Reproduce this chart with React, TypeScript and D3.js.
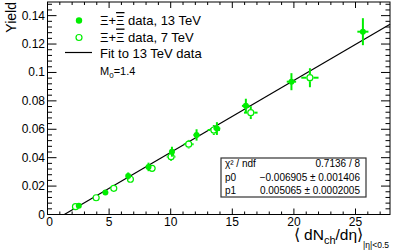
import React from "react";
import * as d3 from "d3";

const x13 = [2.54, 4.7, 6.55, 8.2, 10.1, 12.1, 13.75, 16.1, 19.8, 25.6];
const y13 = [0.0062, 0.0155, 0.0271, 0.0335, 0.0442, 0.056, 0.0605, 0.0765, 0.0935, 0.1287];
const ex13 = [0.1, 0.12, 0.15, 0.18, 0.2, 0.25, 0.28, 0.32, 0.38, 0.45];
const ey13 = [0.0008, 0.0012, 0.0025, 0.003, 0.0035, 0.004, 0.0045, 0.005, 0.006, 0.0095];

const x7 = [2.27, 3.95, 5.38, 6.73, 8.49, 10.03, 11.46, 13.5, 16.5, 21.3];
const y7 = [0.0055, 0.0118, 0.0184, 0.0248, 0.0325, 0.0407, 0.0495, 0.0595, 0.0717, 0.0963];
const ex7 = [0.1, 0.15, 0.2, 0.25, 0.3, 0.35, 0.4, 0.5, 0.55, 0.7];
const ey7 = [0.0006, 0.001, 0.0012, 0.0018, 0.0022, 0.003, 0.003, 0.0035, 0.0045, 0.0067];

const fitP0 = -0.006905;
const fitP1 = 0.005065;

const xTicks = [0, 5, 10, 15, 20, 25];
const yTicks = [0, 0.02, 0.04, 0.06, 0.08, 0.1, 0.12, 0.14];
const yTickLabels = ["0", "0.02", "0.04", "0.06", "0.08", "0.1", "0.12", "0.14"];

const statNames = ["χ² / ndf", "p0", "p1"];
const statValues = ["0.7136 / 8", "−0.006905 ± 0.001406", "0.005065 ± 0.0002005"];

const GREEN = "#00ee00";
const FONT = "'Liberation Sans', Arial, Helvetica, sans-serif";

export default function App() {
  const L = 47.5, R = 390, T = 2, B = 214.5;
  const xs = d3.scaleLinear().domain([0, 27.8]).range([L, R]);
  const ys = d3.scaleLinear().domain([0, 0.1496]).range([B, T]);

  const xMinor = d3.range(0, 28, 1);
  const yMinor = d3.range(0, 0.1496, 0.004);

  const x0 = -fitP0 / fitP1;
  const fitLine = d3.line<number>()
    .x((d) => xs(d))
    .y((d) => ys(fitP0 + fitP1 * d))([x0, 27.8]);

  const errBars = (xv: number[], yv: number[], ex: number[], ey: number[], r: number) =>
    xv.map((xx, i) => {
      const cx = xs(xx), cy = ys(yv[i]);
      const x1 = xs(xx - ex[i]), x2 = xs(xx + ex[i]);
      const y1 = ys(yv[i] + ey[i]), y2 = ys(yv[i] - ey[i]);
      const segs: JSX.Element[] = [];
      if (cx - x1 > r) segs.push(<line key="l" x1={x1} x2={cx - r} y1={cy} y2={cy} />);
      if (x2 - cx > r) segs.push(<line key="r" x1={cx + r} x2={x2} y1={cy} y2={cy} />);
      if (cy - y1 > r) segs.push(<line key="t" x1={cx} x2={cx} y1={y1} y2={cy - r} />);
      if (y2 - cy > r) segs.push(<line key="b" x1={cx} x2={cx} y1={cy + r} y2={y2} />);
      return <g key={i}>{segs}</g>;
    });

  return (
    <svg width={399} height={250} style={{ position: "absolute", left: 0, top: 0, fontFamily: FONT }}>
      <rect x={0} y={0} width={399} height={250} fill="white" />
      <rect x={L} y={T} width={R - L} height={B - T} fill="none" stroke="black" strokeWidth={1} />
      <g stroke="black" strokeWidth={1}>
        {xMinor.map((v) => {
          const major = v % 5 === 0;
          const len = major ? 6 : 3;
          return (
            <g key={"xm" + v}>
              <line x1={xs(v)} x2={xs(v)} y1={B} y2={B - len} />
              <line x1={xs(v)} x2={xs(v)} y1={T} y2={T + len} />
            </g>
          );
        })}
        {yMinor.map((v, i) => {
          const major = i % 5 === 0;
          const len = major ? 9 : 4.5;
          return (
            <g key={"ym" + i}>
              <line x1={L} x2={L + len} y1={ys(v)} y2={ys(v)} />
              <line x1={R} x2={R - len} y1={ys(v)} y2={ys(v)} />
            </g>
          );
        })}
      </g>
      <g fontSize={12} fill="black">
        {xTicks.map((v) => (
          <text key={"xt" + v} x={xs(v) + (v === 0 ? 2 : 0)} y={226} textAnchor="middle">{v}</text>
        ))}
        {yTicks.map((v, i) => (
          <text key={"yt" + v} x={45} y={ys(v) + 4} textAnchor="end">{yTickLabels[i]}</text>
        ))}
      </g>
      <path d={fitLine ?? ""} fill="none" stroke="black" strokeWidth={1.2} />
      <g stroke={GREEN} strokeWidth={2}>{errBars(x7, y7, ex7, ey7, 3.5)}</g>
      {x7.map((xx, i) => (
        <circle key={"o" + i} cx={xs(xx)} cy={ys(y7[i])} r={3} fill="white" stroke={GREEN} strokeWidth={1.2} />
      ))}
      <g stroke={GREEN} strokeWidth={2}>{errBars(x13, y13, ex13, ey13, 0)}</g>
      {x13.map((xx, i) => (
        <circle key={"f" + i} cx={xs(xx)} cy={ys(y13[i])} r={3} fill={GREEN} />
      ))}
      <circle cx={79} cy={20.5} r={3.2} fill={GREEN} />
      <circle cx={79} cy={37.5} r={3} fill="white" stroke={GREEN} strokeWidth={1.2} />
      <line x1={65} x2={92} y1={52.5} y2={52.5} stroke="black" strokeWidth={1.2} />
      <g fontSize={13} fill="black">
        <text x={100} y={25}>Ξ+<tspan style={{ textDecoration: "overline" }}>Ξ</tspan> data, 13 TeV</text>
        <text x={100} y={41.5}>Ξ+<tspan style={{ textDecoration: "overline" }}>Ξ</tspan> data, 7 TeV</text>
        <text x={100} y={57.5}>Fit to 13 TeV data</text>
      </g>
      <text x={100} y={75} fontSize={11}>M<tspan fontSize={8} dy={2.5}>0</tspan><tspan dy={-2.5}>=1.4</tspan></text>
      <rect x={221} y={158} width={145} height={39} fill="white" stroke="#333" strokeWidth={1.2} />
      <g fontSize={10} fill="black">
        {statNames.map((n, i) => (
          <text key={"sn" + i} x={225} y={167 + i * 13.5}>{n}</text>
        ))}
        {statValues.map((n, i) => (
          <text key={"sv" + i} x={360} y={167 + i * 13.5} textAnchor="end">{n}</text>
        ))}
      </g>
      <text transform="translate(15.5,2) rotate(-90)" textAnchor="end" fontSize={14}>Yield</text>
      <text x={389} y={239.5} textAnchor="end" fontSize={15.5}>
        ⟨ dN<tspan fontSize={11} dy={4.5}>ch</tspan><tspan dy={-4.5}>/dη⟩</tspan><tspan fontSize={8.5} dy={8}>|η|&lt;0.5</tspan>
      </text>
    </svg>
  );
}
